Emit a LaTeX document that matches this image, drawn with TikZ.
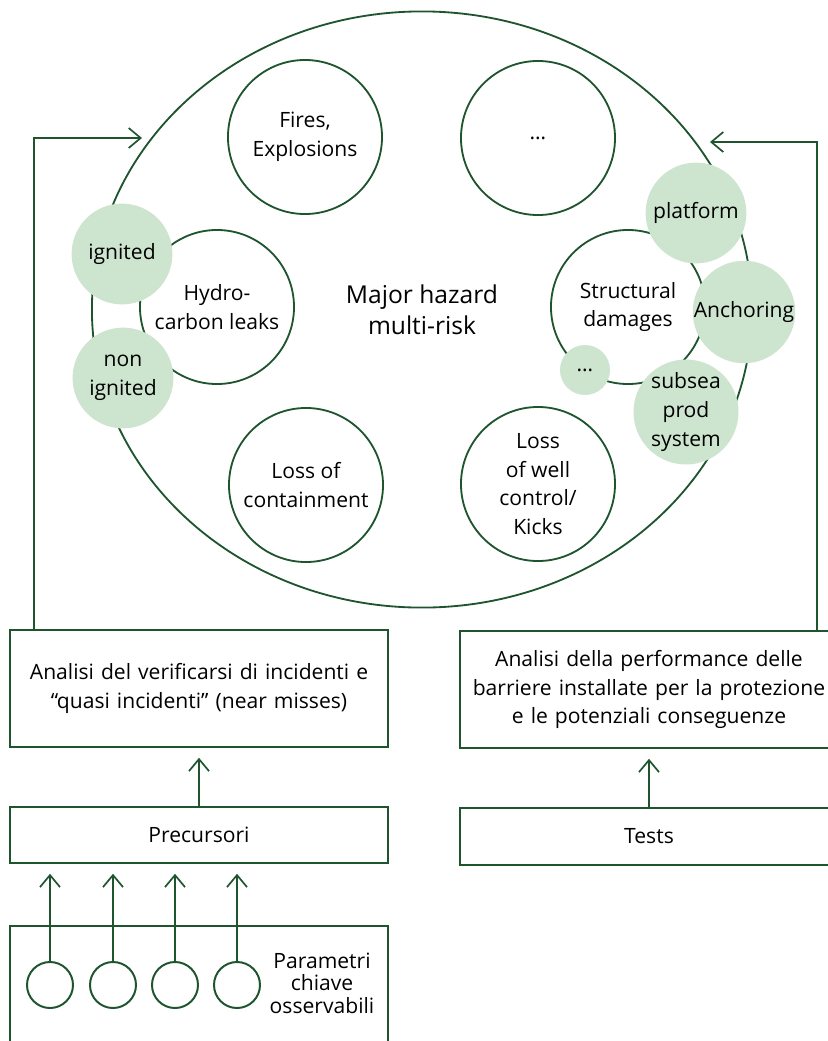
\documentclass[tikz,border=0pt]{standalone}
\usepackage{fontspec}
\setmainfont{Open Sans}
\usetikzlibrary{arrows.meta,shapes.geometric}
\definecolor{hzgreen}{RGB}{30,84,46}
\definecolor{leaf}{RGB}{205,228,207}
\tikzset{risk/.style={draw=hzgreen,line width=1.3pt,circle,fill=white,minimum size=3.85cm,align=center,inner sep=0pt},
 sub/.style={circle,fill=leaf,minimum size=2.52cm,align=center,inner sep=0pt},
 frame/.style={draw=hzgreen,line width=1.3pt,align=center,text width=9.2cm,minimum width=9.45cm,inner sep=0pt},
 arr/.style={-{Straight Barb[length=3mm,width=5mm,line width=1.2pt]},draw=hzgreen,line width=1.2pt,shorten >=7pt},
 obs/.style={draw=hzgreen,line width=1.4pt,circle,minimum size=1.15cm,inner sep=0pt}}
\begin{document}
\begin{tikzpicture}[x=0.025cm,y=-0.025cm,font=\fontsize{15}{20.5}\selectfont]
\clip (0,0) rectangle (828,1041);
\node[draw=hzgreen,line width=1.3pt,ellipse,minimum width=16.5cm,minimum height=14.9cm,align=center,font=\fontsize{17.5}{22}\selectfont] (hazard) at (422,309.5) {Major hazard\\multi-risk};
\node[risk] (fire) at (305,137) {Fires,\\Explosions};
\node[risk] (more) at (538,138) {\dots};
\node[risk] (hydro) at (217,307) {Hydro-\\carbon leaks};
\node[risk] (struct) at (628,307) {Structural\\damages};
\node[risk] (cont) at (306,485) {Loss of\\containment};
\node[risk] (well) at (538,484) {Loss\\of well\\control/\\Kicks};
\node[sub] (ign) at (122,254) {ignited};
\node[sub] (nonign) at (123,378) {non\\ignited};
\node[sub] (plat) at (696,213) {platform};
\node[sub] (anch) at (744,312) {Anchoring};
\node[sub] (subsea) at (686,412) {subsea\\prod\\system};
\node[sub,minimum size=1.25cm] (etc) at (585,370) {\dots};
\node[frame,minimum height=2.925cm] (rep) at (199,688.5) {Analisi del verificarsi di incidenti e\\``quasi incidenti'' (near misses)};
\node[frame,minimum height=1.4cm] (prec) at (199,835) {Precursori};
\node[frame,minimum height=3.35cm] (param) at (199,993) {};
\node[frame,minimum height=2.925cm] (perf) at (649,689.5) {Analisi della performance delle\\barriere installate per la protezione\\e le potenziali conseguenze};
\node[frame,minimum height=1.425cm] (test) at (649,836.5) {Tests};
\foreach \i/\x in {1/50,2/113,3/175,4/237}
 \node[obs] (p\i) at (\x,985) {};
\node[align=center,font=\fontsize{15}{16}\selectfont] (plab) at (322,983) {Parametri\\chiave\\osservabili};
\coordinate (lin) at (142,138);
\coordinate (rin) at (710,142);
\foreach \i in {1,...,4}
 \draw[arr] (p\i.north) -- (p\i |- prec.south);
\draw[arr] (prec) -- (rep);
\draw[arr] (test) -- (perf);
\draw[arr,shorten >=0pt] (rep.north west) ++(25,0) |- (lin);
\draw[arr,shorten >=0pt] (perf.north east) ++(-22,0) |- (rin);
\end{tikzpicture}
\end{document}
